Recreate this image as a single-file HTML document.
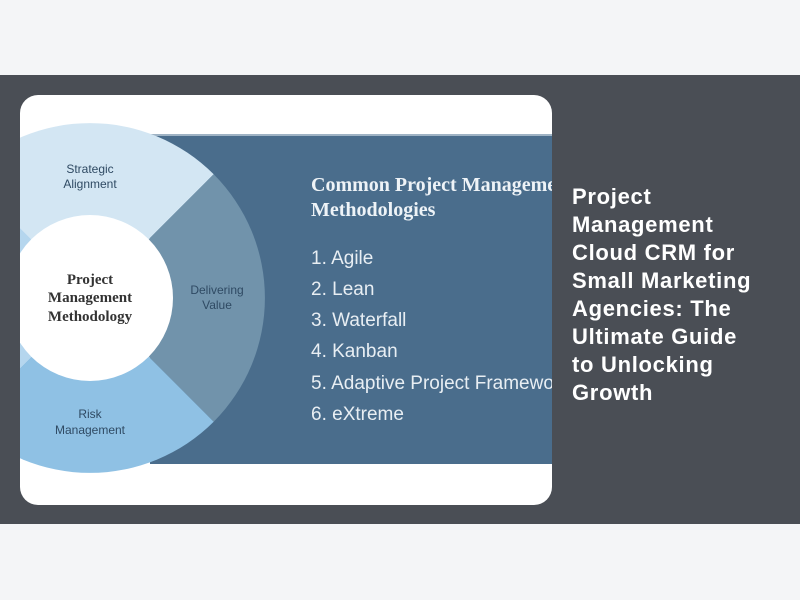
<!DOCTYPE html>
<html><head><style>
body{margin:0;width:800px;height:600px;background:#f4f5f7;position:relative;overflow:hidden;font-family:"Liberation Sans",sans-serif}
.band{position:absolute;left:0;top:75px;width:800px;height:449px;background:#4a4e55}
.card{position:absolute;left:20px;top:95px;width:532px;height:410px;background:#fff;border-radius:18px;overflow:hidden}
.title{position:absolute;left:572px;top:183px;width:192px;color:#fff;font-weight:bold;font-size:22px;line-height:28px;letter-spacing:0.7px}
</style></head><body>
<div class="band"></div>
<div class="card">
<svg width="532" height="410" viewBox="20 95 532 410">
<rect x="150" y="135" width="402" height="329" fill="#4a6d8c"/>
<rect x="150" y="134" width="402" height="2" fill="#9fb3c4"/>
<g transform="translate(90,298)">
<path d="M0 0 L-123.7 -123.7 A175 175 0 0 1 123.7 -123.7 Z" fill="#d3e6f3"/>
<path d="M0 0 L123.7 -123.7 A175 175 0 0 1 123.7 123.7 Z" fill="#7193ab"/>
<path d="M0 0 L123.7 123.7 A175 175 0 0 1 -123.7 123.7 Z" fill="#8fc1e4"/>
<path d="M0 0 L-123.7 123.7 A175 175 0 0 1 -123.7 -123.7 Z" fill="#b5d6ee"/>
<circle r="83" fill="#fff"/>
</g>
<g font-family="Liberation Serif,serif" font-size="15" fill="#333" text-anchor="middle" font-weight="bold">
<text x="90" y="284">Project</text><text x="90" y="302">Management</text><text x="90" y="321">Methodology</text></g>
<g font-family="Liberation Sans,sans-serif" font-size="12" fill="#2f4a63" text-anchor="middle">
<text x="90" y="173">Strategic</text><text x="90" y="188">Alignment</text>
<text x="217" y="294">Delivering</text><text x="217" y="309">Value</text>
<text x="90" y="418">Risk</text><text x="90" y="434">Management</text></g>
<g font-family="Liberation Serif,serif" font-size="20" font-weight="bold" fill="#eef3f7">
<text x="311" y="191">Common Project Management</text><text x="311" y="216">Methodologies</text></g>
<g font-family="Liberation Sans,sans-serif" font-size="19" fill="#e8eef3">
<text x="311" y="264">1.  Agile</text><text x="311" y="295">2.  Lean</text><text x="311" y="326">3.  Waterfall</text>
<text x="311" y="357">4.  Kanban</text><text x="311" y="389">5.  Adaptive Project Framework</text><text x="311" y="420">6.  eXtreme</text></g>
</svg>
</div>
<div class="title">Project Management Cloud CRM for Small Marketing Agencies: The Ultimate Guide to Unlocking Growth</div>
</body></html>
